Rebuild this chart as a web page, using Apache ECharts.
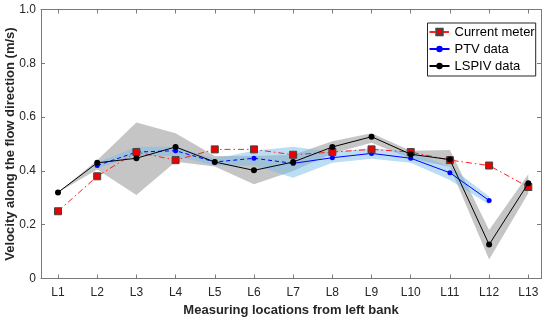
<!DOCTYPE html>
<html>
<head>
<meta charset="utf-8">
<script src="https://cdn.jsdelivr.net/npm/echarts@6/dist/echarts.min.js"></script>
<style>html,body{margin:0;padding:0;background:#fff}#c{width:550px;height:320px}</style>
</head>
<body>
<div id="c"></div>
<script>
var categories = ['L1','L2','L3','L4','L5','L6','L7','L8','L9','L10','L11','L12','L13'];
var positions = [1,2,3,4,5,6,7,8,9,10,11,12,13];
var currentMeter = [0.25,0.38,0.47,0.44,0.48,0.48,0.46,0.47,0.48,0.47,0.44,0.42,0.34];
var ptvData = [null,0.42,0.47,0.475,0.433,0.447,0.428,0.449,0.465,0.447,0.393,0.29,null];
var ptvUpper = [null,0.43,0.49,0.49,0.445,0.475,0.49,0.47,0.485,0.47,0.416,0.305,null];
var ptvLower = [null,0.41,0.455,0.455,0.42,0.42,0.375,0.43,0.445,0.43,0.366,0.275,null];
var lspivData = [0.32,0.43,0.447,0.489,0.433,0.402,0.433,0.489,0.527,0.462,0.442,0.126,0.354];
var lspivUpper = [0.32,0.44,0.58,0.54,0.455,0.455,0.46,0.51,0.54,0.475,0.478,0.18,0.388];
var lspivLower = [0.32,0.405,0.31,0.434,0.416,0.35,0.40,0.465,0.505,0.445,0.415,0.071,0.317];
var ptvDashedUntil = 7; // PTV line drawn dashed from L2 to L7, solid afterwards

function pairs(vals){ return vals.map(function(v,i){ return [positions[i], v]; }); }
function pairsRange(vals, from, to){
  return vals.map(function(v,i){ var p = positions[i]; return [p, (p>=from && p<=to) ? v : null]; });
}
function band(upper, lower, color){
  return function(params, api){
    if (params.dataIndex !== 0) return;
    var pts = [];
    for (var i=0;i<upper.length;i++) if (upper[i]!=null) pts.push(api.coord([positions[i], upper[i]]));
    for (var j=lower.length-1;j>=0;j--) if (lower[j]!=null) pts.push(api.coord([positions[j], lower[j]]));
    return {type:'polygon', shape:{points:pts}, style:{fill:color}, silent:true};
  };
}
var axisCol = '#7a7a7a';
var txtCol = '#262626';
var font = "'Liberation Sans', Arial, Helvetica, sans-serif";
var chart = echarts.init(document.getElementById('c'), null, {renderer:'canvas'});
chart.setOption({
  animation:false,
  backgroundColor:'#fff',
  grid:{left:41, right:9, top:9.5, bottom:41.5, outerBoundsMode:'none'},
  legend:{
    left:427.5, top:23, orient:'vertical', itemGap:3, itemWidth:20, itemHeight:8,
    padding:[2,1,3,1], borderColor:'#262626', borderWidth:1, backgroundColor:'#fff',
    textStyle:{fontSize:13, lineHeight:14, color:'#000', fontFamily:font},
    data:['Current meter','PTV data','LSPIV data']
  },
  xAxis:[{
    type:'value', min:0.566, max:13.324, position:'bottom',
    name:'Measuring locations from left bank', nameLocation:'middle', nameGap:25, nameMoveOverlap:false,
    nameTextStyle:{fontWeight:'bold', fontSize:13, color:txtCol, fontFamily:font},
    axisLine:{onZero:false, lineStyle:{color:axisCol, width:1}},
    axisTick:{inside:true, length:4, customValues:positions, lineStyle:{color:axisCol}},
    axisLabel:{customValues:positions, fontSize:12, color:txtCol, fontFamily:font, margin:8,
      formatter:function(v){ return categories[Math.round(v)-1]; }},
    splitLine:{show:false}
  },{
    type:'value', min:0.566, max:13.324, position:'top',
    axisLine:{onZero:false, lineStyle:{color:axisCol, width:1}},
    axisTick:{inside:true, length:4, customValues:positions, lineStyle:{color:axisCol}},
    axisLabel:{show:false}, splitLine:{show:false}
  }],
  yAxis:[{
    type:'value', min:0, max:1, interval:0.2, position:'left',
    name:'Velocity along the flow direction (m/s)', nameLocation:'middle', nameGap:24, nameMoveOverlap:false,
    nameTextStyle:{fontWeight:'bold', fontSize:13, color:txtCol, fontFamily:font},
    axisLine:{show:true, onZero:false, lineStyle:{color:axisCol, width:1}},
    axisTick:{show:true, inside:true, length:4, lineStyle:{color:axisCol}},
    axisLabel:{fontSize:12, color:txtCol, fontFamily:font, margin:5,
      formatter:function(v){ return v===0 ? '0' : v.toFixed(1); }},
    splitLine:{show:false}
  },{
    type:'value', min:0, max:1, interval:0.2, position:'right',
    axisLine:{show:true, onZero:false, lineStyle:{color:axisCol, width:1}},
    axisTick:{show:true, inside:true, length:4, lineStyle:{color:axisCol}},
    axisLabel:{show:false}, splitLine:{show:false}
  }],
  series:[
    {type:'custom', name:'lspivBand', xAxisIndex:0, yAxisIndex:0, data:[[1,0]], z:1,
     renderItem: band(lspivUpper, lspivLower, 'rgba(172,172,172,0.7)'), silent:true},
    {type:'custom', name:'ptvBand', xAxisIndex:0, yAxisIndex:0, data:[[1,0]], z:2,
     renderItem: band(ptvUpper, ptvLower, 'rgba(120,190,235,0.5)'), silent:true},
    {type:'line', name:'Current meter', data:pairs(currentMeter), z:5,
     symbol:'rect', symbolSize:7,
     lineStyle:{color:'#ff2020', width:1, type:[6,3,1.5,3]},
     itemStyle:{color:'#ee0000', borderColor:'#444', borderWidth:1}},
    {type:'line', name:'PTV dashed', data:pairsRange(ptvData, 1, ptvDashedUntil), z:4, connectNulls:false,
     symbol:'circle', symbolSize:5,
     lineStyle:{color:'#0000ff', width:1, type:[4,3]},
     itemStyle:{color:'#0000ff', borderWidth:0}},
    {type:'line', name:'PTV data', data:pairsRange(ptvData, ptvDashedUntil, 13), z:4, connectNulls:false,
     symbol:'circle', symbolSize:5,
     lineStyle:{color:'#0000ff', width:1},
     itemStyle:{color:'#0000ff', borderWidth:0}},
    {type:'line', name:'LSPIV data', data:pairs(lspivData), z:6,
     symbol:'circle', symbolSize:6,
     lineStyle:{color:'#000', width:1},
     itemStyle:{color:'#000', borderWidth:0}}
  ]
});
</script>
</body>
</html>
